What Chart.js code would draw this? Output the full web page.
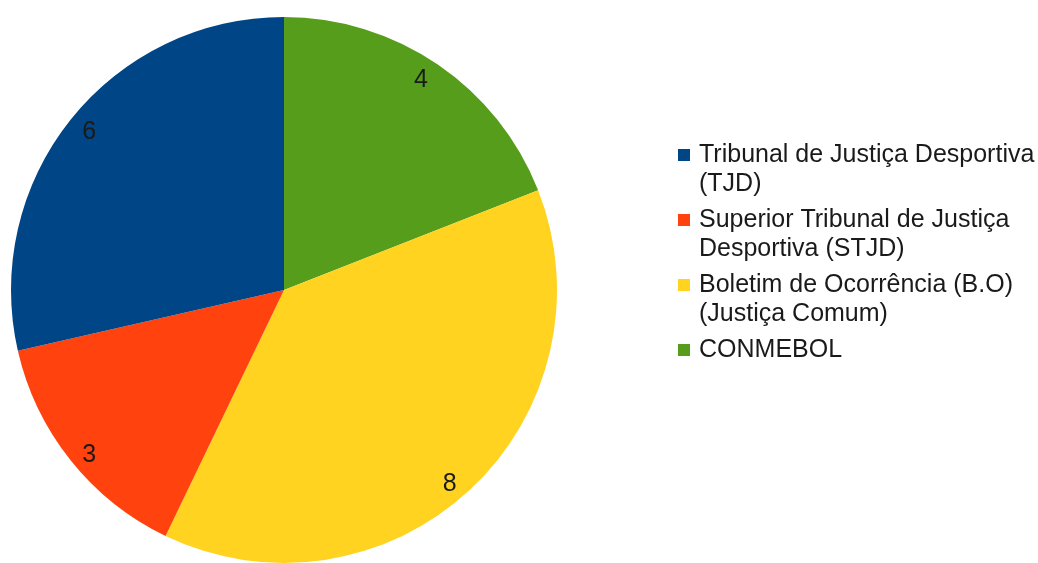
<!DOCTYPE html>
<html><head><meta charset="utf-8">
<script src="https://cdn.jsdelivr.net/npm/chart.js@4/dist/chart.umd.min.js"></script>
<style>html,body{margin:0;padding:0;background:#fff;overflow:hidden}</style>
</head><body>
<canvas id="c" width="1038" height="563"></canvas>
<script>
// Legend order (as shown in reference)
const categories = [
  ["Tribunal de Justiça Desportiva", "(TJD)"],
  ["Superior Tribunal de Justiça", "Desportiva (STJD)"],
  ["Boletim de Ocorrência (B.O)", "(Justiça Comum)"],
  ["CONMEBOL"]
];
const values = [6, 3, 8, 4];
const colors = ["#004586", "#ff420e", "#ffd320", "#579d1c"];

// The reference draws slices counter-clockwise from 12 o'clock;
// Chart.js draws clockwise, so feed the slices in reverse order.
const pieLabels = categories.slice().reverse().map(l => l.join(" "));
const pieValues = values.slice().reverse();
const pieColors = colors.slice().reverse();

const FONT = '"Liberation Sans", Arial, sans-serif';

const valueLabels = {
  id: 'valueLabels',
  afterDatasetsDraw(chart) {
    const ctx = chart.ctx;
    const meta = chart.getDatasetMeta(0);
    const size = 25;
    ctx.save();
    ctx.font = size + 'px ' + FONT;
    ctx.fillStyle = '#1a1a1a';
    ctx.textAlign = 'center';
    ctx.textBaseline = 'alphabetic';
    meta.data.forEach((arc, i) => {
      const p = arc.getProps(['x', 'y', 'startAngle', 'endAngle', 'outerRadius'], true);
      const mid = (p.startAngle + p.endAngle) / 2;
      const x = p.x - 2 + Math.cos(mid) * p.outerRadius * 0.903;
      const y = p.y + 2 + Math.sin(mid) * p.outerRadius * 0.949;
      ctx.fillText(String(chart.data.datasets[0].data[i]), x, y + size * 0.358);
    });
    ctx.restore();
  }
};

const sideLegend = {
  id: 'sideLegend',
  afterDraw(chart) {
    const ctx = chart.ctx;
    ctx.save();
    ctx.font = '25px ' + FONT;
    ctx.textBaseline = 'alphabetic';
    ctx.textAlign = 'left';
    let base = 162;
    categories.forEach((lines, i) => {
      ctx.fillStyle = colors[i];
      ctx.fillRect(678, base - 13, 12, 12);
      ctx.fillStyle = '#1a1a1a';
      lines.forEach((t, j) => {
        ctx.fillText(t, 699, base + j * 29);
      });
      base += (lines.length - 1) * 29 + 36;
    });
    ctx.restore();
  }
};

new Chart(document.getElementById('c'), {
  type: 'pie',
  data: {
    labels: pieLabels,
    datasets: [{
      data: pieValues,
      backgroundColor: pieColors,
      borderWidth: 0,
      hoverOffset: 0
    }]
  },
  options: {
    responsive: false,
    animation: false,
    layout: { padding: { left: 11, top: 17, right: 481, bottom: 0 } },
    plugins: {
      legend: { display: false },
      tooltip: { enabled: false }
    }
  },
  plugins: [valueLabels, sideLegend]
});
</script>
</body></html>
